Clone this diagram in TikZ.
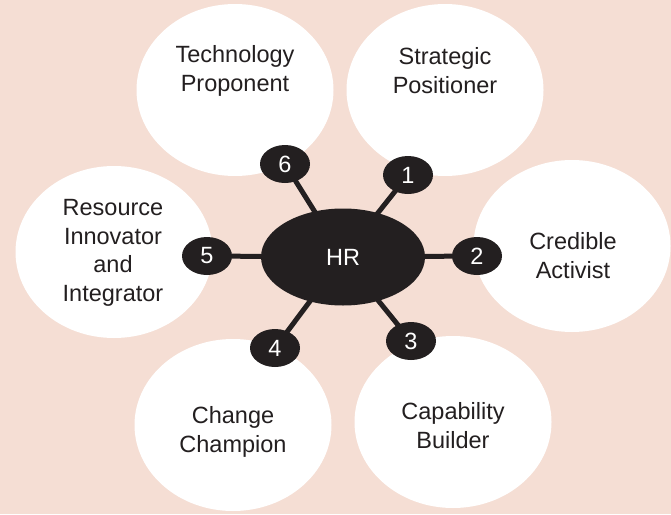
\documentclass[tikz,border=0pt]{standalone}
\usepackage{fontspec}
\setmainfont{Liberation Sans}
\usetikzlibrary{shapes.geometric}
\definecolor{peach}{RGB}{245,222,212}
\definecolor{ink}{RGB}{35,31,32}
\pgfdeclarelayer{back}
\pgfdeclarelayer{wires}
\pgfsetlayers{back,wires,main}

\begin{document}
\begin{tikzpicture}[x=1pt,y=-1pt,
  role/.style={ellipse, fill=white, minimum width=197pt, minimum height=172pt, inner sep=0pt},
  rolelabel/.style={align=center, anchor=base, text=ink, inner sep=0pt,
    font=\fontsize{23.5}{28.5}\selectfont},
  hub/.style={ellipse, fill=ink, text=white, minimum width=164pt, minimum height=97pt,
    inner sep=0pt, font=\fontsize{23.5}{28.5}\selectfont},
  badge/.style={ellipse, fill=ink, text=white, minimum width=50pt, minimum height=38pt,
    inner sep=0pt, font=\fontsize{23.5}{28.5}\selectfont},
  spoke/.style={draw=ink, line width=5pt}]

\useasboundingbox (0,0) rectangle (671,514);

% backdrop and the six role bubbles
\begin{pgfonlayer}{back}
  \fill[peach] (0,0) rectangle (671,514);
  \node[role] (tp) at (235,90) {};
  \node[role] (sp) at (445,90) {};
  \node[role] (ca) at (572,246) {};
  \node[role] (ri) at (114,252) {};
  \node[role] (cc) at (233,425) {};
  \node[role] (cb) at (453,422) {};
\end{pgfonlayer}

% role names (positioned by the baseline of their last line)
\node[rolelabel] (tptext) at (235,91) {Technology\\Proponent};
\node[rolelabel] (sptext) at (445,93) {Strategic\\Positioner};
\node[rolelabel] (catext) at (573,278) {Credible\\Activist};
\node[rolelabel] (ritext) at (113,301) {Resource\\Innovator\\and\\Integrator};
\node[rolelabel] (cctext) at (233,452) {Change\\Champion};
\node[rolelabel] (cbtext) at (453,448) {Capability\\Builder};

% hub and numbered badges
\node[hub] (hr) at (343,257) {HR};
\node[badge] (n1) at (408,175) {1};
\node[badge] (n2) at (477,256) {2};
\node[badge] (n3) at (411,341) {3};
\node[badge] (n4) at (275,348) {4};
\node[badge] (n5) at (207,256) {5};
\node[badge] (n6) at (285,164) {6};

% spokes from the hub to each badge
\begin{pgfonlayer}{wires}
  \foreach \b in {n1,n2,n3,n4,n5,n6}
    \draw[spoke] (hr.center) -- (\b.center);
\end{pgfonlayer}
\end{tikzpicture}
\end{document}
